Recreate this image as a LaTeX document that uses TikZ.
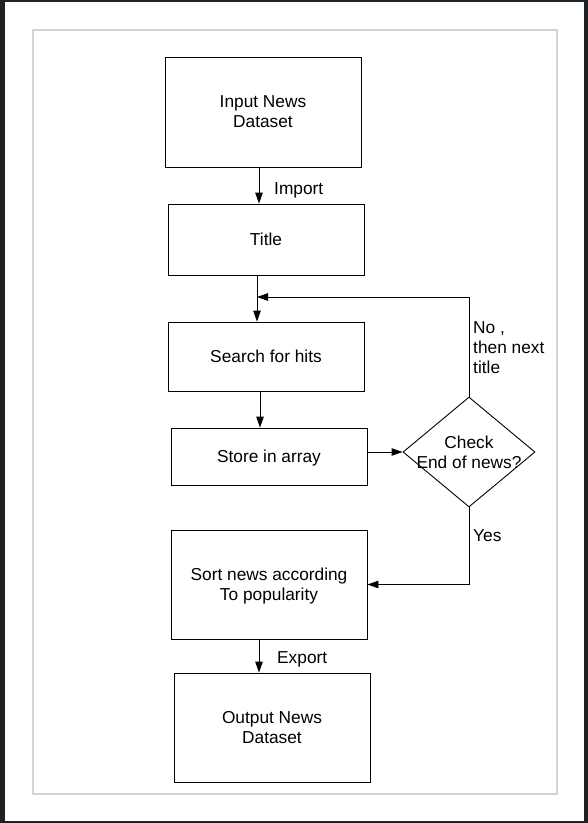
\documentclass[tikz,border=0pt]{standalone}
\usepackage{fontspec}
\setmainfont{Liberation Sans}
\usetikzlibrary{arrows.meta,shapes.geometric}
\definecolor{outerdark}{RGB}{30,34,37}
\definecolor{framegrey}{RGB}{212,212,212}
\tikzset{
  box/.style={draw=black, line width=0.9pt, rectangle, minimum width=196pt, inner sep=0pt, align=center, font=\fs, text depth=0pt},
  arr/.style={draw=black, line width=0.9pt, -{Triangle[length=11pt,width=7.5pt]}},
  lbl/.style={inner sep=0pt, anchor=west, align=left, font=\fs},
}
\newcommand{\fs}{\fontsize{17.3}{20}\selectfont}
\begin{document}
\begin{tikzpicture}[x=1pt,y=-1pt]
\useasboundingbox (0,0) rectangle (588,823);
\fill[outerdark] (0,0) rectangle (588,823);
\fill[white] (5,2) rectangle (584,821);
\draw[framegrey, line width=1.2pt] (33,30) rectangle (557,794);

\node[box, minimum height=110pt] (input) at (263,112) {Input News\\Dataset};
\node[box, minimum height=71pt] (title) at (266,239.5) {Title};
\node[box, minimum height=69pt] (search) at (266,356.5) {Search for hits};
\node[box, minimum height=57pt] (store) at (269,456.5) {Store in array};
\node[box, minimum height=109pt] (sort) at (269,584.5) {Sort news according\\To popularity};
\node[box, minimum height=109pt] (output) at (272,727.5) {Output News\\Dataset};

\node[diamond, draw=black, line width=0.9pt, minimum width=132pt, minimum height=110pt, inner sep=0pt] (check) at (469,452) {};
\node[inner sep=0pt, align=center, font=\fs] (checktext) at (check.center) {Check\\End of news?};

\coordinate (j) at (257,297);

\draw[arr] ([xshift=-4pt]input.south) -- ([xshift=-7pt]title.north);
\draw[arr] (title.south -| j) -- (search.north -| j);
\draw[arr] ([xshift=-6pt]search.south) -- ([xshift=-9pt]store.north);
\draw[arr] (store.east |- check.west) -- (check.west);
\draw[arr] (check.north) |- (j);
\draw[arr] (check.south) |- (sort.east);
\draw[arr] ([xshift=-10pt]sort.south) -- ([xshift=-13pt]output.north);

\node[lbl] (import) at (274,190.5) {Import};
\node[lbl] (export) at (277,659) {Export};
\node[lbl] (no) at (473,348) {No ,\\then next\\title};
\node[lbl] (yes) at (473,536) {Yes};
\end{tikzpicture}
\end{document}
